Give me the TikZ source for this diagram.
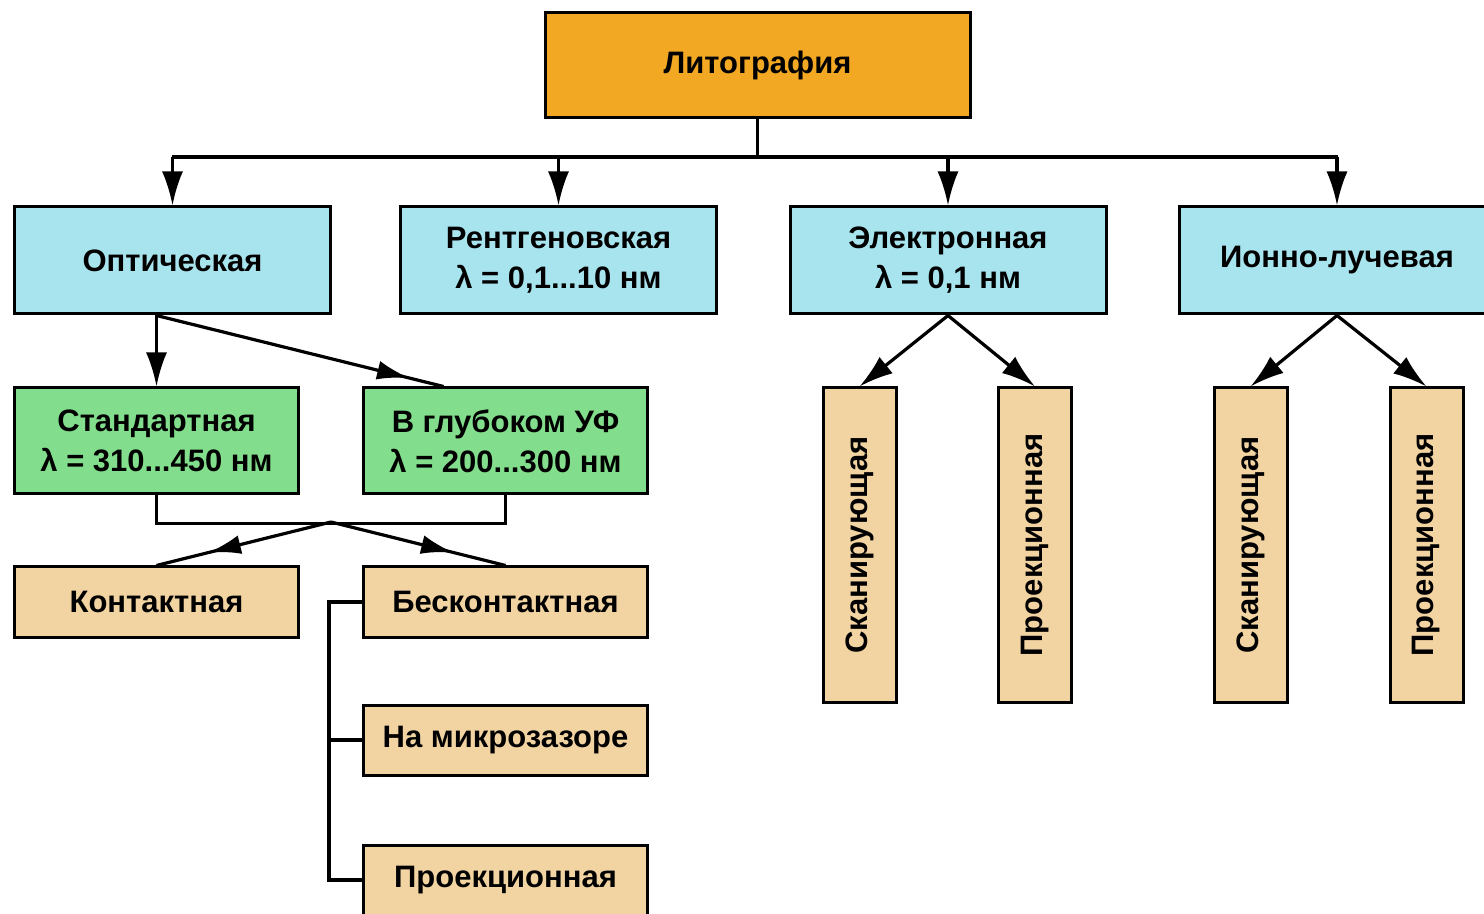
\documentclass[tikz,border=0pt]{standalone}
\usepackage{fontspec}
\setmainfont{Liberation Sans}
\usetikzlibrary{arrows.meta,decorations.markings}

\definecolor{litoorange}{HTML}{F3A823}
\definecolor{kindblue}{HTML}{A8E4EE}
\definecolor{optgreen}{HTML}{82DE8C}
\definecolor{modetan}{HTML}{F2D4A2}

\begin{document}
\begin{tikzpicture}[x=0.5pt, y=-0.5pt,
    box/.style={draw, line width=1.5pt, align=center, inner sep=0pt,
        font=\bfseries\fontsize{15.5}{20}\selectfont},
    topbox/.style={box, fill=litoorange, minimum width=212.5pt, minimum height=52.5pt},
    kindbox/.style={box, fill=kindblue, minimum width=158pt, minimum height=53.5pt},
    optbox/.style={box, fill=optgreen, minimum width=142pt, minimum height=53pt},
    modebox/.style={box, fill=modetan, minimum width=142pt, minimum height=35pt},
    vbox/.style={box, fill=modetan, rotate=90, minimum width=157pt, minimum height=36.5pt},
    link/.style={line width=1.6pt},
    arr/.style={link, -{Latex[length=17pt,width=10.5pt]}},
    midarr/.style={link, postaction={decorate}, decoration={markings,
        mark=at position #1 with {\arrow{Latex[length=16pt,width=9.5pt]}}}},
    ]
\useasboundingbox (0,0) rectangle (1484,914);

% top
\node[topbox] (lito) at (757.5,65.5) {Литография};

% kinds of lithography
\node[kindbox] (opt)  at (172.5,260.5) {Оптическая};
\node[kindbox] (xray) at (558.5,260.5) {Рентгеновская\\λ = 0,1...10 нм};
\node[kindbox] (elec) at (948,260.5)   {Электронная\\λ = 0,1 нм};
\node[kindbox] (ion)  at (1337,260.5)  {Ионно-лучевая};

\coordinate (busL) at (172,157);
\coordinate (busR) at (1338,157);
\draw[link] (lito.south) -- (lito.south |- busL);
\draw[link] (busL) -- (busR);
\foreach \n in {opt,xray,elec,ion}
    \draw[arr] (\n.north |- busL) -- (\n.north);

% optical
\node[optbox] (std)  at (156.5,441) {Стандартная\\λ = 310...450 нм};
\node[optbox] (deep) at (505.5,441) {В глубоком УФ\\λ = 200...300 нм};
\draw[arr] (std.north |- opt.south) -- (std.north);
\draw[midarr=0.88] (std.north |- opt.south) -- ([xshift=-31pt]deep.north);

\node[modebox] (cont)    at (156.5,602) {Контактная};
\node[modebox] (noncont) at (505.5,602) {Бесконтактная};
\node[modebox] (micro)   at (505.5,740) {На микрозазоре};
\node[modebox] (proj)    at (505.5,880) {Проекционная};

\draw[link] (std.south) -- ++(0,28) -| (deep.south);
\coordinate (fork) at (331,522);
\draw[midarr=0.7] (fork) -- (cont.north);
\draw[midarr=0.7] (fork) -- (noncont.north);

\draw[link] (noncont.west) -- ++(-33,0) |- (proj.west);
\draw[link] (micro.west) -- ++(-33,0);

% electron and ion
\node[vbox] (scanE) at (859.5,545)  {Сканирующая};
\node[vbox] (projE) at (1035,545)   {Проекционная};
\node[vbox] (scanI) at (1250.5,545) {Сканирующая};
\node[vbox] (projI) at (1426.5,545) {Проекционная};

\foreach \a/\b in {elec/scanE,elec/projE,ion/scanI,ion/projI}
    \draw[arr] (\a.south) -- (\b.east);

\end{tikzpicture}
\end{document}
